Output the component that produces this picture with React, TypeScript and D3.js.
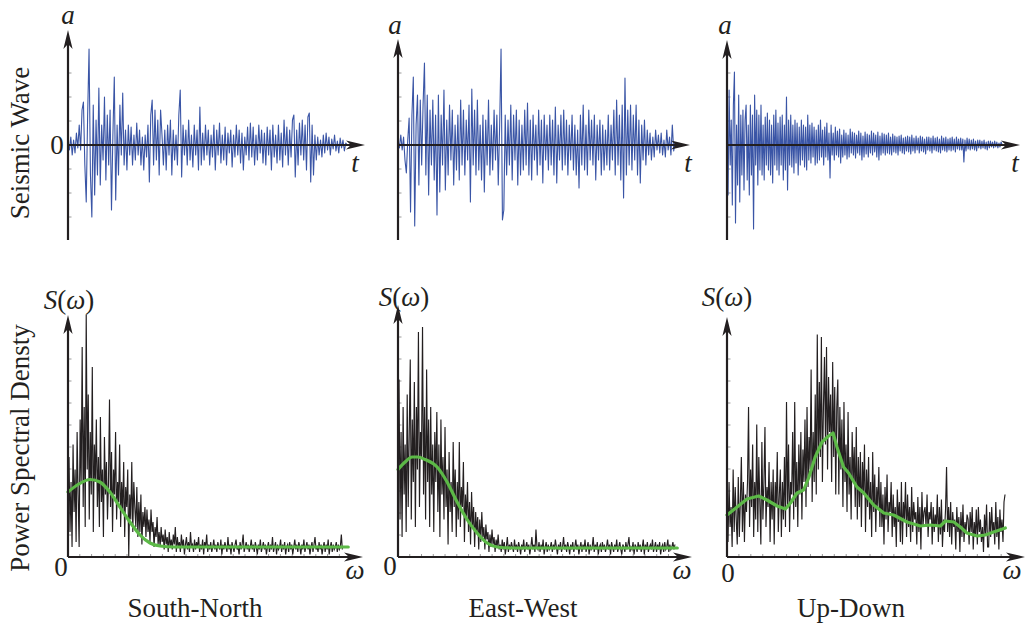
import React from 'react';
import * as d3 from 'd3';

// ---------------- data ----------------
const componentNames = ['South-North', 'East-West', 'Up-Down'];

const waveSN = [
  0.02, -0.05, 0.08, -0.1, 0.05, -0.08, 0.12, -0.03, 0.2, -0.05,
  0.35, 0.43, -0.2, -0.57, 0.3, 0.96, -0.3, -0.72, 0.4, -0.5,
  0.25, -0.3, 0.57, -0.4, 0.2, -0.15, 0.48, -0.35, 0.3, -0.2,
  0.35, -0.65, 0.1, 0.68, -0.55, 0.2, -0.3, 0.4, -0.1, 0.52,
  -0.2, 0.15, -0.25, 0.2, -0.1, 0.18, -0.2, 0.1, -0.15, 0.22,
  -0.1, 0.15, -0.2, 0.08, -0.25, 0.1, -0.12, 0.2, -0.37, 0.3,
  0.45, -0.2, 0.35, -0.15, 0.25, -0.3, 0.35, 0.1, -0.2, 0.15,
  -0.25, 0.2, -0.1, 0.25, -0.3, 0.15, -0.15, 0.1, -0.2, 0.3,
  0.55, -0.32, 0.2, -0.1, 0.15, -0.2, 0.25, -0.15, 0.1, -0.22,
  0.2, -0.1, 0.15, -0.25, 0.38, -0.2, 0.12, -0.15, 0.2, -0.1,
  0.15, -0.2, 0.1, -0.12, 0.2, -0.25, 0.15, -0.1, 0.22, -0.18,
  0.1, -0.15, 0.18, -0.2, 0.12, -0.08, 0.15, -0.22, 0.1, -0.12,
  0.2, -0.1, 0.15, -0.18, 0.12, -0.25, 0.08, -0.1, 0.18, -0.15,
  0.22, -0.12, 0.18, -0.2, 0.1, -0.15, 0.2, -0.08, 0.15, -0.18,
  0.12, -0.2, 0.18, -0.1, 0.15, -0.25, 0.2, -0.12, 0.1, -0.18,
  0.2, -0.15, 0.12, -0.22, 0.25, -0.1, 0.18, -0.2, 0.15, -0.12,
  0.25, 0.3, -0.32, 0.15, -0.2, 0.22, -0.1, 0.25, -0.15, 0.2,
  -0.25, 0.28, 0.32, -0.37, 0.2, -0.3, 0.1, -0.15, 0.08, -0.1,
  0.05, -0.12, 0.1, -0.08, 0.12, -0.05, 0.08, -0.1, 0.06, -0.04,
  0.1, -0.06, 0.04, -0.08, 0.07, -0.03, 0.05, -0.06, 0.02, 0.0,
];

const waveEW = [
  0.05, -0.03, 0.1, -0.05, 0.08, -0.15, -0.28, 0.05, 0.27, -0.67,
  0.3, 0.68, -0.81, 0.2, 0.5, -0.4, 0.45, -0.2, 0.4, 0.82,
  -0.3, 0.5, -0.5, 0.35, -0.2, 0.45, -0.35, 0.3, -0.7, 0.5,
  -0.47, 0.3, -0.2, 0.55, -0.45, 0.25, -0.3, 0.4, -0.15, 0.35,
  -0.4, 0.2, -0.25, 0.3, -0.35, 0.45, -0.2, 0.35, -0.3, 0.25,
  -0.15, 0.4, -0.57, 0.56, -0.2, 0.35, -0.3, 0.45, -0.25, 0.2,
  -0.35, 0.3, -0.47, 0.25, -0.2, 0.45, -0.3, 0.2, -0.25, 0.35,
  -0.15, 0.3, -0.4, 0.2, 0.96, -0.75, -0.65, 0.3, -0.3, 0.25,
  -0.2, 0.4, -0.35, 0.3, -0.15, 0.35, -0.4, 0.25, -0.3, 0.2,
  -0.25, 0.35, -0.2, 0.42, -0.3, 0.25, -0.35, 0.3, -0.15, 0.2,
  -0.3, 0.35, -0.2, 0.25, -0.38, 0.3, -0.15, 0.2, -0.25, 0.3,
  -0.2, 0.25, -0.3, 0.38, -0.38, 0.2, -0.15, 0.3, -0.25, 0.35,
  -0.2, 0.25, -0.3, 0.2, -0.15, 0.3, -0.25, 0.2, -0.3, 0.15,
  -0.43, 0.3, -0.2, 0.4, -0.25, 0.2, -0.3, 0.35, -0.15, 0.25,
  -0.2, 0.3, -0.35, 0.2, -0.15, 0.25, -0.3, 0.2, -0.25, 0.15,
  -0.2, 0.3, -0.25, 0.2, -0.15, 0.35, -0.3, 0.45, -0.2, 0.3,
  -0.35, 0.4, -0.53, 0.67, -0.3, 0.35, -0.2, 0.4, -0.25, 0.3,
  -0.15, 0.4, -0.3, 0.25, -0.38, 0.2, -0.15, 0.25, -0.2, 0.15,
  -0.1, 0.12, -0.15, 0.08, -0.12, 0.15, -0.05, 0.1, -0.08, 0.12,
  -0.1, 0.05, -0.12, 0.15, -0.05, 0.08, -0.1, 0.2, -0.06, 0.03,
];

const waveUD = [
  0.3, -0.5, 0.55, -0.2, 0.25, -0.6, 0.4, 0.73, -0.78, 0.2,
  -0.4, 0.5, -0.57, 0.3, -0.3, 0.35, -0.45, 0.25, 0.4, -0.35,
  0.2, -0.5, 0.4, -0.3, 0.3, -0.84, 0.5, -0.2, 0.35, -0.4,
  0.3, -0.25, 0.4, -0.3, 0.2, -0.35, 0.28, -0.2, 0.32, -0.25,
  0.25, -0.3, 0.2, -0.38, 0.3, -0.2, 0.35, -0.25, 0.22, -0.3,
  0.28, -0.2, 0.3, -0.35, 0.2, -0.25, 0.48, -0.45, 0.25, -0.2,
  0.3, -0.22, 0.2, -0.28, 0.25, -0.18, 0.22, -0.3, 0.18, -0.2,
  0.25, -0.15, 0.2, -0.22, 0.18, -0.25, 0.3, -0.15, 0.2, -0.18,
  0.22, -0.12, 0.18, -0.2, 0.15, -0.18, 0.2, -0.15, 0.25, -0.12,
  0.15, -0.2, 0.18, -0.12, 0.22, -0.15, 0.12, -0.33, 0.2, -0.1,
  0.12, -0.15, 0.18, -0.1, 0.14, -0.12, 0.16, -0.18, 0.1, -0.12,
  0.15, -0.1, 0.12, -0.14, 0.1, -0.12, 0.16, -0.08, 0.13, -0.1,
  0.12, -0.13, 0.1, -0.08, 0.14, -0.1, 0.12, -0.15, 0.09, -0.12,
  0.13, -0.09, 0.11, -0.12, 0.1, -0.08, 0.14, -0.1, 0.12, -0.07,
  0.1, -0.12, 0.13, -0.15, 0.09, -0.1, 0.12, -0.08, 0.11, -0.1,
  0.1, -0.08, 0.12, -0.09, 0.08, -0.1, 0.11, -0.07, 0.09, -0.08,
  0.08, -0.1, 0.09, -0.06, 0.1, -0.08, 0.07, -0.09, 0.08, -0.06,
  0.09, -0.07, 0.08, -0.09, 0.1, -0.06, 0.07, -0.08, 0.09, -0.05,
  0.07, -0.08, 0.09, -0.06, 0.08, -0.07, 0.06, -0.09, 0.08, -0.05,
  0.08, -0.06, 0.07, -0.08, 0.09, -0.05, 0.07, -0.06, 0.08, -0.07,
  0.06, -0.08, 0.09, -0.05, 0.07, -0.06, 0.08, -0.07, 0.06, -0.05,
  0.07, -0.06, 0.08, -0.05, 0.06, -0.07, 0.08, -0.04, 0.06, -0.05,
  0.07, -0.05, 0.06, -0.17, 0.05, -0.06, 0.07, -0.04, 0.06, -0.05,
  0.05, -0.04, 0.06, -0.05, 0.04, -0.06, 0.05, -0.03, 0.05, -0.04,
  0.04, -0.03, 0.05, -0.04, 0.03, -0.05, 0.04, -0.03, 0.04, -0.02,
  0.03, -0.03, 0.04, -0.02, 0.03, -0.03, 0.02, -0.02, 0.03, 0.0,
];

const psdSN = [
  0.22, 0.4, 0.1, 0.3, 0.04, 0.45, 0.18, 0.35, 0.06, 0.5,
  0.25, 0.04, 0.55, 0.3, 0.84, 0.2, 0.6, 0.12, 0.97, 0.35,
  0.65, 0.15, 0.5, 0.25, 0.76, 0.1, 0.45, 0.3, 0.55, 0.2,
  0.4, 0.12, 0.56, 0.22, 0.35, 0.08, 0.48, 0.25, 0.38, 0.15,
  0.3, 0.63, 0.2, 0.42, 0.1, 0.35, 0.25, 0.5, 0.15, 0.3,
  0.22, 0.45, 0.12, 0.3, 0.18, 0.38, 0.08, 0.28, 0.2, 0.35,
  0.0, 0.25, 0.15, 0.38, 0.1, 0.3, 0.2, 0.12, 0.28, 0.08,
  0.22, 0.1, 0.25, 0.05, 0.18, 0.12, 0.2, 0.08, 0.19, 0.1,
  0.15, 0.06, 0.19, 0.1, 0.14, 0.04, 0.12, 0.08, 0.16, 0.05,
  0.1, 0.04, 0.12, 0.06, 0.09, 0.03, 0.11, 0.05, 0.08, 0.02,
  0.1, 0.04, 0.07, 0.03, 0.09, 0.05, 0.12, 0.02, 0.08, 0.04,
  0.06, 0.02, 0.09, 0.04, 0.07, 0.01, 0.05, 0.08, 0.03, 0.06, 0.02, 0.1, 0.04, 0.05, 0.02, 0.07, 0.03, 0.06,
  0.04, 0.08, 0.02, 0.05, 0.03, 0.07, 0.01, 0.06, 0.04, 0.09, 0.02, 0.05, 0.03, 0.06, 0.02, 0.04, 0.07, 0.03,
  0.05, 0.02, 0.06, 0.04, 0.03, 0.07, 0.01, 0.05, 0.03, 0.06, 0.04, 0.02, 0.08, 0.03, 0.05, 0.01, 0.06, 0.04,
  0.02, 0.05, 0.07, 0.03, 0.04, 0.01, 0.06, 0.03, 0.05, 0.09, 0.02, 0.04, 0.06, 0.03, 0.05, 0.02, 0.04, 0.07,
  0.03, 0.05, 0.02, 0.06, 0.04, 0.01, 0.05, 0.03, 0.07, 0.02, 0.04, 0.06, 0.03, 0.05, 0.01, 0.04, 0.06, 0.02,
  0.05, 0.03, 0.08, 0.02, 0.04, 0.06, 0.01, 0.05, 0.03, 0.04, 0.07, 0.02, 0.05, 0.03, 0.06, 0.01, 0.04, 0.05,
  0.02, 0.06, 0.03, 0.05, 0.01, 0.04, 0.07, 0.03, 0.05, 0.02, 0.06, 0.04, 0.01, 0.05, 0.03, 0.07, 0.02, 0.04,
  0.06, 0.03, 0.05, 0.01, 0.04, 0.06, 0.02, 0.05, 0.08, 0.03, 0.04, 0.02, 0.06, 0.03, 0.05, 0.01, 0.04, 0.06,
  0.02, 0.05, 0.03, 0.07, 0.01, 0.04, 0.06, 0.02, 0.05, 0.03, 0.04, 0.06, 0.02, 0.05, 0.03, 0.04, 0.09, 0.03,
];

const psdEW = [
  0.3, 0.71, 0.15, 0.5, 0.08, 0.6, 0.25, 0.45, 0.1, 0.65,
  0.2, 0.5, 0.79, 0.15, 0.55, 0.3, 0.7, 0.12, 0.6, 0.35,
  0.9, 0.2, 0.5, 0.4, 0.92, 0.25, 0.6, 0.15, 0.75, 0.3,
  0.55, 0.12, 0.6, 0.25, 0.45, 0.1, 0.5, 0.3, 0.58, 0.18,
  0.45, 0.08, 0.55, 0.25, 0.4, 0.15, 0.52, 0.2, 0.35, 0.05,
  0.42, 0.18, 0.3, 0.1, 0.46, 0.2, 0.35, 0.08, 0.3, 0.15,
  0.46, 0.12, 0.28, 0.2, 0.38, 0.06, 0.25, 0.15, 0.3, 0.1,
  0.22, 0.05, 0.26, 0.12, 0.2, 0.04, 0.18, 0.1, 0.16, 0.03,
  0.15, 0.06, 0.18, 0.08, 0.12, 0.03, 0.13, 0.07, 0.1, 0.02,
  0.09, 0.04, 0.11, 0.05, 0.08, 0.02, 0.07, 0.04, 0.09, 0.03,
  0.05, 0.02, 0.07, 0.03, 0.06, 0.01, 0.04, 0.08, 0.02, 0.05, 0.03, 0.06, 0.04, 0.02, 0.07, 0.03, 0.05,
  0.02, 0.06, 0.04, 0.01, 0.05, 0.03, 0.07, 0.02, 0.04, 0.06, 0.03, 0.05, 0.01, 0.04, 0.08, 0.03, 0.05,
  0.02, 0.11, 0.04, 0.03, 0.06, 0.02, 0.05, 0.03, 0.07, 0.01, 0.04, 0.06, 0.02, 0.05, 0.03, 0.04, 0.06,
  0.02, 0.05, 0.03, 0.07, 0.04, 0.01, 0.05, 0.03, 0.06, 0.02, 0.04, 0.08, 0.03, 0.05, 0.02, 0.06, 0.04,
  0.01, 0.05, 0.03, 0.06, 0.02, 0.04, 0.07, 0.03, 0.05, 0.01, 0.04, 0.06, 0.02, 0.05, 0.03, 0.07, 0.02,
  0.04, 0.06, 0.01, 0.05, 0.03, 0.04, 0.08, 0.02, 0.05, 0.03, 0.06, 0.01, 0.04, 0.05, 0.02, 0.06, 0.03,
  0.05, 0.02, 0.04, 0.07, 0.03, 0.05, 0.01, 0.06, 0.04, 0.02, 0.05, 0.03, 0.07, 0.02, 0.04, 0.06, 0.03,
  0.01, 0.05, 0.04, 0.02, 0.06, 0.03, 0.05, 0.08, 0.02, 0.04, 0.03, 0.06, 0.01, 0.05, 0.04, 0.02, 0.06,
  0.03, 0.05, 0.02, 0.04, 0.07, 0.01, 0.05, 0.03, 0.06, 0.02, 0.04, 0.05, 0.03, 0.07, 0.02, 0.04, 0.06,
  0.02, 0.05, 0.03, 0.06, 0.01, 0.04, 0.05, 0.02, 0.06, 0.03, 0.04, 0.07, 0.02, 0.05, 0.03, 0.04, 0.06,
  0.03, 0.05,
];

const psdUD = [
  0.25, 0.06, 0.3, 0.12, 0.2, 0.04, 0.35, 0.1, 0.28, 0.15, 0.05, 0.32, 0.08, 0.22, 0.4, 0.1, 0.3, 0.06, 0.25, 0.18, 0.3, 0.6,
  0.12, 0.35, 0.2, 0.45, 0.08, 0.3, 0.15, 0.53, 0.1, 0.4, 0.22, 0.05, 0.46, 0.15, 0.3, 0.52, 0.12, 0.28, 0.2, 0.38, 0.06, 0.3,
  0.15, 0.35, 0.05, 0.3, 0.2, 0.42, 0.1, 0.25, 0.35, 0.08, 0.3, 0.15, 0.4, 0.12, 0.62, 0.2, 0.45, 0.1, 0.3, 0.25, 0.5, 0.15,
  0.62, 0.2, 0.38, 0.12, 0.45, 0.25, 0.5, 0.15, 0.43, 0.3, 0.55, 0.2, 0.6, 0.28, 0.48, 0.35, 0.75, 0.22, 0.5, 0.3, 0.65,
  0.25, 0.89, 0.35, 0.7, 0.4, 0.88, 0.3, 0.6, 0.8, 0.45, 0.84, 0.35, 0.72, 0.5, 0.65, 0.3, 0.78, 0.4, 0.68, 0.25, 0.6,
  0.71, 0.25, 0.6, 0.35, 0.55, 0.2, 0.62, 0.3, 0.45, 0.18, 0.58, 0.25, 0.4, 0.15, 0.5, 0.3, 0.44, 0.2, 0.52, 0.15, 0.4,
  0.2, 0.42, 0.12, 0.38, 0.25, 0.45, 0.1, 0.35, 0.2, 0.4, 0.15, 0.3, 0.08, 0.42, 0.18, 0.33, 0.1, 0.28, 0.2, 0.36, 0.12,
  0.3, 0.12, 0.25, 0.05, 0.28, 0.15, 0.33, 0.1, 0.22, 0.18, 0.3, 0.08, 0.25, 0.12, 0.2, 0.04, 0.27, 0.14, 0.22, 0.06, 0.3,
  0.05, 0.22, 0.15, 0.3, 0.08, 0.25, 0.12, 0.2, 0.06, 0.28, 0.1, 0.22, 0.15, 0.18, 0.05, 0.24, 0.1, 0.2, 0.03, 0.26, 0.12, 0.18,
  0.2, 0.12, 0.25, 0.08, 0.18, 0.15, 0.22, 0.05, 0.2, 0.1, 0.17, 0.12, 0.25, 0.06, 0.2, 0.09, 0.23, 0.04, 0.15, 0.1, 0.19, 0.36,
  0.1, 0.2, 0.08, 0.22, 0.05, 0.18, 0.12, 0.15, 0.03, 0.2, 0.1, 0.16, 0.02, 0.18, 0.08, 0.21, 0.06, 0.14, 0.1, 0.17,
  0.15, 0.05, 0.18, 0.1, 0.2, 0.03, 0.14, 0.08, 0.19, 0.05, 0.2, 0.1, 0.15, 0.06, 0.12, 0.02, 0.17, 0.09, 0.21, 0.04,
  0.04, 0.18, 0.08, 0.2, 0.1, 0.14, 0.05, 0.22, 0.08, 0.16, 0.03, 0.19, 0.1, 0.15, 0.06, 0.22, 0.25,
];

// smoothed spectra (green): frequency positions and values
const trendSNw = [0, 3.4, 7.5, 10.8, 14.2, 17.6, 21, 24.4, 27.8, 31.2, 36, 50, 70, 95];
const trendSNs = [0.26, 0.29, 0.31, 0.3, 0.26, 0.2, 0.14, 0.088, 0.056, 0.044, 0.04, 0.04, 0.04, 0.04];

const trendEWw = [0, 2.4, 4.8, 6.8, 9.2, 13.3, 16.7, 20.1, 23.5, 26.9, 30.3, 33.7, 39, 60, 95];
const trendEWs = [0.35, 0.38, 0.4, 0.4, 0.39, 0.36, 0.3, 0.22, 0.15, 0.096, 0.056, 0.04, 0.036, 0.036, 0.036];

const trendUDw = [0, 3.4, 6.7, 10.6, 13.4, 16.8, 19.6, 21.3, 23.5, 25.7, 27.4, 29.6, 31.9, 34.1, 35.6, 36.9, 39.1, 40.8, 43.6, 45.9, 49.2, 52.6, 55.9, 60.4, 64.9, 68.2, 71.6, 73.3, 76.1, 78.3, 80.5, 83.9, 86.7, 89.5, 93.4];
const trendUDs = [0.168, 0.2, 0.232, 0.244, 0.228, 0.204, 0.192, 0.216, 0.256, 0.268, 0.316, 0.4, 0.46, 0.484, 0.496, 0.44, 0.36, 0.336, 0.28, 0.256, 0.208, 0.176, 0.168, 0.14, 0.124, 0.128, 0.124, 0.144, 0.14, 0.12, 0.096, 0.084, 0.088, 0.1, 0.116];

// ---------------- layout / style ----------------
const W = 1029;
const H = 628;
const INK = '#231f20';
const BLUE = '#3a55a6';
const GREEN = '#5cb947';
const FONT = '"Liberation Serif", "Times New Roman", serif';
const FS = 27;

const topPanels = [
  { data: waveSN, axisX: 68, xEnd: 365, yTop: 30, aX: 68, aY: 15, tX: 355, dataEnd: 94, zero: true },
  { data: waveEW, axisX: 398, xEnd: 690, yTop: 39, aX: 395, aY: 25, tX: 688, dataEnd: 94.9, zero: false },
  { data: waveUD, axisX: 727, xEnd: 1020, yTop: 40, aX: 725, aY: 25, tX: 1015, dataEnd: 93.9, zero: false },
];

const botPanels = [
  { data: psdSN, tw: trendSNw, ts: trendSNs, axisX: 68, xEnd: 363, yTop: 315, sX: 69, sY: 300, zX: 61, zY: 567, oX: 355, dataEnd: 93, curve: 'smooth' },
  { data: psdEW, tw: trendEWw, ts: trendEWs, axisX: 398, xEnd: 692, yTop: 305, sX: 404, sY: 297, zX: 390, zY: 566, oX: 682, dataEnd: 94.2, curve: 'smooth' },
  { data: psdUD, tw: trendUDw, ts: trendUDs, axisX: 727, xEnd: 1025, yTop: 317, sX: 727, sY: 297, zX: 728, zY: 573, oX: 1012, dataEnd: 93.3, curve: 'linear' },
];

const labelX = [195, 523, 851];

const ZERO_Y = 145;
const TOP_BOTTOM = 240;
const BASE_Y = 557;

function arrowPath(x: number, y: number, dir: 'up' | 'right') {
  const L = 19, Wd = 4.6, N = 14;
  if (dir === 'up') {
    return `M${x},${y} L${x + Wd},${y + L} L${x},${y + N} L${x - Wd},${y + L} Z`;
  }
  return `M${x},${y} L${x - L},${y - Wd} L${x - N},${y} L${x - L},${y + Wd} Z`;
}

function TopPanel({ p }: { p: typeof topPanels[number] }) {
  const x = d3.scaleLinear().domain([0, 100]).range([p.axisX, p.xEnd]);
  const y = d3.scaleLinear().domain([-1, 1]).range([ZERO_Y + 100, ZERO_Y - 100]);
  const step = p.dataEnd / (p.data.length - 1);
  const line = d3.line<number>().x((_, i) => x(i * step)).y((d) => y(d));
  const tickVals = d3.range(-0.96, 1.15, 0.24).filter((v) => y(v) > p.yTop + 22 && y(v) < TOP_BOTTOM - 4 && Math.abs(v) > 0.01);
  return (
    <g>
      {tickVals.map((v, i) => (
        <line key={i} x1={p.axisX} x2={p.axisX + 3.5} y1={y(v)} y2={y(v)} stroke="#9a9a9a" strokeWidth={1} />
      ))}
      <path d={line(p.data) || ''} fill="none" stroke={BLUE} strokeWidth={1.1} strokeLinejoin="round" />
      <line x1={p.axisX} x2={p.axisX} y1={TOP_BOTTOM} y2={p.yTop + 14} stroke={INK} strokeWidth={2.2} />
      <path d={arrowPath(p.axisX, p.yTop, 'up')} fill={INK} />
      <line x1={p.axisX} x2={p.xEnd - 14} y1={ZERO_Y} y2={ZERO_Y} stroke={INK} strokeWidth={2.2} />
      <path d={arrowPath(p.xEnd, ZERO_Y, 'right')} fill={INK} />
      <text x={p.aX} y={p.aY} fontFamily={FONT} fontSize={FS} fontStyle="italic" textAnchor="middle" dominantBaseline="central" fill={INK}>a</text>
      <text x={p.tX} y={163} fontFamily={FONT} fontSize={FS} fontStyle="italic" textAnchor="middle" dominantBaseline="central" fill={INK}>t</text>
      {p.zero && (
        <text x={57} y={145} fontFamily={FONT} fontSize={FS} textAnchor="middle" dominantBaseline="central" fill={INK}>0</text>
      )}
    </g>
  );
}

function BotPanel({ p }: { p: typeof botPanels[number] }) {
  const x = d3.scaleLinear().domain([0, 100]).range([p.axisX, p.xEnd]);
  const y = d3.scaleLinear().domain([0, 1]).range([BASE_Y, BASE_Y - 250]);
  const step = p.dataEnd / (p.data.length - 1);
  const noise = d3.line<number>().x((_, i) => x(i * step)).y((d) => y(d));
  const trendPts = p.tw.map((w, i) => [w, p.ts[i]] as [number, number]);
  const trend = d3
    .line<[number, number]>()
    .x((d) => x(d[0]))
    .y((d) => y(d[1]))
    .curve(p.curve === 'smooth' ? d3.curveMonotoneX : d3.curveLinear);
  const yTicks = d3.range(0.088, 1, 0.088).filter((v) => y(v) > p.yTop + 22);
  const xTicks = d3.range(4, 96, 4);
  return (
    <g>
      {yTicks.map((v, i) => (
        <line key={'y' + i} x1={p.axisX} x2={p.axisX + 3.5} y1={y(v)} y2={y(v)} stroke="#9a9a9a" strokeWidth={1} />
      ))}
      {xTicks.map((v, i) => (
        <line key={'x' + i} x1={x(v)} x2={x(v)} y1={BASE_Y} y2={BASE_Y - 3} stroke="#9a9a9a" strokeWidth={1} />
      ))}
      <path d={noise(p.data) || ''} fill="none" stroke={INK} strokeWidth={1.15} strokeLinejoin="miter" />
      <path d={trend(trendPts) || ''} fill="none" stroke={GREEN} strokeWidth={3.2} strokeLinejoin="round" strokeLinecap="round" />
      <line x1={p.axisX} x2={p.axisX} y1={BASE_Y} y2={p.yTop + 14} stroke={INK} strokeWidth={2.2} />
      <path d={arrowPath(p.axisX, p.yTop, 'up')} fill={INK} />
      <line x1={p.axisX} x2={p.xEnd - 14} y1={BASE_Y} y2={BASE_Y} stroke={INK} strokeWidth={2.2} />
      <path d={arrowPath(p.xEnd, BASE_Y, 'right')} fill={INK} />
      <text x={p.sX} y={p.sY} fontFamily={FONT} fontSize={FS} textAnchor="middle" dominantBaseline="central" fill={INK}>
        <tspan fontStyle="italic">S</tspan>(<tspan fontStyle="italic">ω</tspan>)
      </text>
      <text x={p.zX} y={p.zY} fontFamily={FONT} fontSize={FS} textAnchor="middle" dominantBaseline="central" fill={INK}>0</text>
      <text x={p.oX} y={570} fontFamily={FONT} fontSize={FS} fontStyle="italic" textAnchor="middle" dominantBaseline="central" fill={INK}>ω</text>
    </g>
  );
}

export default function App() {
  return (
    <svg width={W} height={H} viewBox={`0 0 ${W} ${H}`} style={{ position: 'absolute', left: 0, top: 0, background: '#fff' }}>
      <rect x={0} y={0} width={W} height={H} fill="#fff" />
      {topPanels.map((p, i) => <TopPanel key={'t' + i} p={p} />)}
      {botPanels.map((p, i) => <BotPanel key={'b' + i} p={p} />)}
      <text transform="translate(20,143) rotate(-90)" fontFamily={FONT} fontSize={FS} textAnchor="middle" dominantBaseline="central" fill={INK}>Seismic Wave</text>
      <text transform="translate(20,448) rotate(-90)" fontFamily={FONT} fontSize={FS} textAnchor="middle" dominantBaseline="central" fill={INK}>Power Spectral Densty</text>
      {componentNames.map((n, i) => (
        <text key={n} x={labelX[i]} y={608} fontFamily={FONT} fontSize={FS} textAnchor="middle" dominantBaseline="central" fill={INK}>{n}</text>
      ))}
    </svg>
  );
}
